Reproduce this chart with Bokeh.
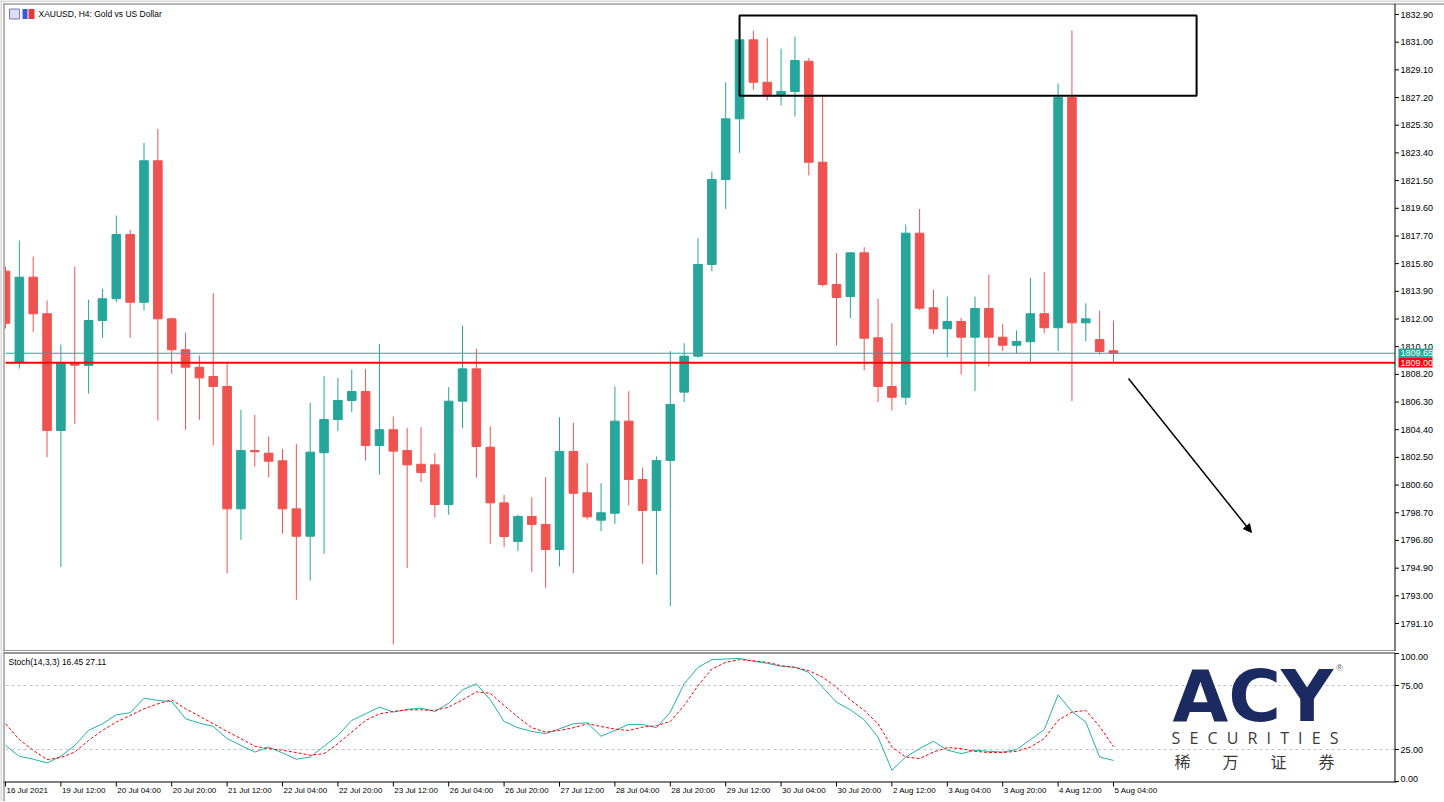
from bokeh.plotting import figure
from bokeh.models import Range1d, ColumnDataSource, Arrow, NormalHead
from bokeh.layouts import column
from bokeh.embed import file_html
from bokeh.resources import INLINE
from bokeh.core.properties import value

# ---------------- data (XAUUSD H4) ----------------
OPEN = [1815.28, 1809.03, 1814.87, 1812.36, 1804.35, 1808.97, 1808.81, 1811.90, 1813.39, 1817.80,
        1813.15, 1822.86, 1812.01, 1809.89, 1808.69, 1808.05, 1807.37, 1798.97, 1802.97, 1802.79,
        1802.27, 1798.97, 1797.09, 1802.82, 1805.10, 1806.41, 1807.02, 1803.32, 1804.40, 1802.97,
        1802.03, 1801.99, 1799.27, 1806.36, 1808.58, 1803.20, 1799.38, 1796.73, 1798.45, 1797.90,
        1796.18, 1802.91, 1800.07, 1798.19, 1798.67, 1804.99, 1800.98, 1798.86, 1802.29, 1806.98,
        1809.45, 1815.74, 1821.57, 1825.74, 1831.16, 1828.25, 1827.41, 1827.62, 1829.69, 1822.76,
        1814.37, 1813.54, 1816.54, 1810.71, 1807.37, 1806.63, 1817.89, 1812.77, 1811.33, 1811.83,
        1810.75, 1812.72, 1810.75, 1810.20, 1810.44, 1812.36, 1811.40, 1827.20, 1811.74, 1810.59,
        1809.82]
HIGH = [1815.60, 1817.39, 1816.29, 1813.27, 1810.25, 1815.60, 1813.32, 1814.07, 1819.10, 1818.12,
        1824.09, 1825.05, 1812.10, 1811.07, 1809.50, 1813.77, 1808.97, 1805.77, 1805.42, 1803.94,
        1803.09, 1803.43, 1806.25, 1808.07, 1807.96, 1808.51, 1808.58, 1810.30, 1805.31, 1804.53,
        1804.57, 1802.79, 1807.32, 1811.55, 1809.96, 1804.64, 1799.93, 1798.58, 1799.77, 1801.14,
        1805.26, 1804.88, 1802.10, 1800.73, 1807.37, 1807.04, 1801.79, 1802.56, 1809.79, 1810.34,
        1817.55, 1822.12, 1828.25, 1831.25, 1831.80, 1831.30, 1830.55, 1831.39, 1829.90, 1827.27,
        1816.52, 1816.60, 1816.93, 1813.39, 1811.71, 1818.49, 1819.56, 1814.00, 1813.54, 1812.08,
        1813.54, 1815.05, 1811.67, 1811.21, 1814.83, 1815.21, 1828.16, 1831.80, 1813.08, 1812.58,
        1811.90]
LOW = [1811.35, 1808.60, 1811.09, 1802.52, 1794.96, 1804.81, 1806.87, 1810.71, 1813.15, 1810.71,
       1812.58, 1805.03, 1808.24, 1804.40, 1805.08, 1803.32, 1794.55, 1796.84, 1801.88, 1801.14,
       1797.26, 1792.73, 1794.05, 1795.88, 1804.30, 1805.60, 1802.29, 1801.31, 1789.66, 1794.92,
       1800.80, 1798.36, 1798.56, 1804.51, 1801.10, 1796.57, 1796.34, 1796.06, 1794.62, 1793.55,
       1795.03, 1794.55, 1798.24, 1797.44, 1797.94, 1799.20, 1795.20, 1794.44, 1792.29, 1806.29,
       1809.36, 1815.28, 1819.56, 1823.41, 1827.73, 1827.00, 1826.65, 1825.90, 1821.85, 1814.23,
       1810.18, 1812.06, 1808.47, 1806.29, 1805.72, 1806.11, 1812.63, 1810.98, 1809.38, 1808.19,
       1807.05, 1808.74, 1809.79, 1809.65, 1808.97, 1811.03, 1809.79, 1806.36, 1810.48, 1809.56,
       1809.03]
CLOSE = [1811.71, 1814.87, 1812.36, 1804.35, 1808.97, 1808.83, 1811.90, 1813.39, 1817.80, 1813.15,
         1822.86, 1812.01, 1809.89, 1808.69, 1807.96, 1807.37, 1798.97, 1802.97, 1802.89, 1802.24,
         1798.97, 1797.09, 1802.86, 1805.10, 1806.41, 1807.02, 1803.32, 1804.40, 1802.93, 1801.99,
         1801.46, 1799.27, 1806.36, 1808.58, 1803.25, 1799.38, 1797.07, 1798.45, 1797.90, 1796.18,
         1802.91, 1800.04, 1798.42, 1798.70, 1804.99, 1800.98, 1798.86, 1802.29, 1806.13, 1809.45,
         1815.74, 1821.57, 1825.74, 1831.16, 1828.25, 1827.41, 1827.62, 1829.74, 1822.76, 1814.37,
         1813.48, 1816.54, 1810.68, 1807.37, 1806.63, 1817.89, 1812.74, 1811.33, 1811.83, 1810.75,
         1812.72, 1810.75, 1810.20, 1810.46, 1812.36, 1811.40, 1827.20, 1811.74, 1812.01, 1809.77,
         1809.65]
STOCH_K = [28.2, 19.7, 17.4, 14.5, 19.7, 28.2, 39.9, 45.1, 52.1, 53.7,
           65.1, 63.3, 62.5, 49.0, 45.6, 43.0, 33.5, 28.2, 23.0, 26.9,
           22.3, 17.4, 19.1, 27.5, 36.0, 47.7, 52.9, 58.1, 54.2, 56.3,
           57.3, 54.7, 61.2, 71.6, 76.3, 63.8, 46.9, 42.0, 39.1, 37.4,
           41.2, 45.1, 45.9, 35.3, 39.9, 44.6, 44.6, 42.0, 54.2, 76.3,
           89.2, 95.2, 95.7, 96.2, 93.9, 92.3, 90.0, 89.2, 85.3, 73.6,
           61.9, 56.0, 48.2, 34.7, 8.8, 19.1, 25.7, 31.4, 24.5, 21.8,
           24.4, 23.6, 23.0, 24.9, 32.7, 40.5, 67.7, 54.7, 46.4, 19.1,
           16.45]
STOCH_D = [45.1, 32.7, 24.4, 17.1, 18.7, 23.0, 32.1, 39.9, 46.4, 51.6,
           56.8, 60.7, 63.8, 56.8, 51.1, 45.1, 39.1, 33.5, 27.5, 25.7,
           24.4, 22.6, 20.5, 21.8, 29.6, 38.6, 47.7, 52.9, 54.7, 56.0,
           56.0, 55.5, 58.1, 63.8, 70.0, 68.9, 59.4, 50.3, 42.0, 38.6,
           39.9, 42.0, 45.1, 43.0, 40.9, 39.9, 42.5, 43.6, 46.9, 59.4,
           74.9, 87.9, 93.1, 95.2, 94.4, 93.1, 90.5, 89.2, 86.6, 81.4,
           73.6, 63.8, 55.5, 45.1, 26.9, 19.1, 17.9, 23.0, 26.5, 25.7,
           23.6, 22.6, 22.6, 23.6, 26.9, 33.5, 47.7, 54.2, 55.5, 43.0,
           27.11]
TIME_LABELS = ["16 Jul 2021", "19 Jul 12:00", "20 Jul 04:00", "20 Jul 20:00", "21 Jul 12:00",
               "22 Jul 04:00", "22 Jul 20:00", "23 Jul 12:00", "26 Jul 04:00", "26 Jul 20:00",
               "27 Jul 12:00", "28 Jul 04:00", "28 Jul 20:00", "29 Jul 12:00", "30 Jul 04:00",
               "30 Jul 20:00", "2 Aug 12:00", "3 Aug 04:00", "3 Aug 20:00", "4 Aug 12:00",
               "5 Aug 04:00"]
TIME_LABEL_BARS = [0, 4, 8, 12, 16, 20, 24, 28, 32, 36, 40, 44, 48, 52, 56, 60, 64, 68, 72, 76, 80]
PRICE_TICKS = [1791.10, 1793.00, 1794.90, 1796.80, 1798.70, 1800.60, 1802.50, 1804.40, 1806.30,
               1808.20, 1810.10, 1812.00, 1813.90, 1815.80, 1817.70, 1819.60, 1821.50, 1823.40,
               1825.30, 1827.20, 1829.10, 1831.00, 1832.90]
STOCH_TICKS = [0, 25, 75, 100]
STOCH_LEVELS = [25, 75]
ASK_PRICE = 1809.65
LEVEL_PRICE = 1809.00
# resistance box (bar index / price) and projected arrow
BOX_LEFT_BAR, BOX_RIGHT_BAR = 53.0, 86.0
BOX_TOP_PRICE, BOX_BOTTOM_PRICE = 1832.83, 1827.32
ARROW_FROM_BAR, ARROW_FROM_PRICE = 81.08, 1807.92
ARROW_TO_BAR, ARROW_TO_PRICE = 89.96, 1797.35

# ---------------- styles / layout ----------------
UP = "#26a69a"
DOWN = "#ef5350"
FONT = "Liberation Sans"
W, H1, H2 = 1444, 651, 150
BAR_PX = 13.85          # px per H4 bar
PRICE_PER_PX = 0.068636  # price per px in the main pane
STOCH_PX = 1.28          # px per stochastic unit


def bx(px):
    """page x pixel -> bar coordinate"""
    return (px - 5.0) / BAR_PX


def py1(s):
    """page y pixel -> price (main pane)"""
    return 1832.90 - (s - 14.0) * PRICE_PER_PX


def py2(s):
    """page y pixel -> stochastic value (lower pane)"""
    return (781.0 - s) / STOCH_PX


BARS = list(range(len(OPEN)))
src = ColumnDataSource(dict(
    x=BARS, o=OPEN, h=HIGH, l=LOW, c=CLOSE,
    top=[max(o, c) for o, c in zip(OPEN, CLOSE)],
    bottom=[min(o, c) for o, c in zip(OPEN, CLOSE)],
    color=[UP if c >= o else DOWN for o, c in zip(OPEN, CLOSE)],
))

X_LEFT, X_AXIS = bx(5), bx(1394.5)


def txt(p, **kw):
    kw.setdefault("text_font", value(FONT))
    kw.setdefault("text_color", "black")
    return p.text(**kw)


# ---------------- main price pane ----------------
p1 = figure(frame_width=W, frame_height=H1, title=None,
            x_range=Range1d(bx(0), bx(W)), y_range=Range1d(py1(H1), py1(0)),
            output_backend="svg", toolbar_location=None,
            x_axis_location=None, y_axis_location=None, min_border=0,
            min_border_left=0, min_border_right=0, min_border_top=0, min_border_bottom=0)
p1.xgrid.visible = False
p1.ygrid.visible = False
p1.outline_line_color = None
p1.background_fill_color = "white"
p1.border_fill_color = "white"

# candles
p1.segment(x0="x", y0="l", x1="x", y1="h", line_color="color", line_width=1, source=src)
p1.vbar(x="x", width=0.62, top="top", bottom="bottom", fill_color="color",
        line_color="color", line_width=1, source=src)

# left window edge mask
p1.quad(left=[bx(0)], right=[bx(4.5)], bottom=[py1(H1)], top=[py1(0)],
        fill_color="white", line_color=None)

# horizontal price lines
p1.segment(x0=X_LEFT, x1=X_AXIS, y0=[ASK_PRICE], y1=[ASK_PRICE], line_color=UP, line_width=1)
p1.segment(x0=X_LEFT, x1=X_AXIS, y0=[LEVEL_PRICE], y1=[LEVEL_PRICE], line_color="#ff0000", line_width=2)

# resistance box + arrow
p1.quad(left=[BOX_LEFT_BAR], right=[BOX_RIGHT_BAR], top=[BOX_TOP_PRICE], bottom=[BOX_BOTTOM_PRICE],
        fill_color=None, line_color="black", line_width=2)
p1.add_layout(Arrow(end=NormalHead(size=8, fill_color="black", line_color="black", line_width=1),
                    x_start=ARROW_FROM_BAR, y_start=ARROW_FROM_PRICE,
                    x_end=ARROW_TO_BAR, y_end=ARROW_TO_PRICE,
                    line_color="black", line_width=1.5))

# price scale (right)
psrc = ColumnDataSource(dict(y=PRICE_TICKS, t=[f"{v:.2f}" for v in PRICE_TICKS]))
p1.segment(x0=X_AXIS, x1=bx(1398.5), y0="y", y1="y", line_color="black", line_width=1, source=psrc)
txt(p1, x=bx(1400), y="y", text="t", source=psrc, text_font_size=value("9px"),
    text_align="left", text_baseline="middle")

# current price tags
p1.rect(x=bx(1415), y=[ASK_PRICE, LEVEL_PRICE], width=34 / BAR_PX, height=9.6 * PRICE_PER_PX,
        fill_color=[UP, "#ff0000"], line_color=None)
txt(p1, x=bx(1400), y=[ASK_PRICE, LEVEL_PRICE], text=[f"{ASK_PRICE:.2f}", f"{LEVEL_PRICE:.2f}"],
    text_color="white", text_font_size=value("9px"), text_align="left", text_baseline="middle")

# window / pane borders
p1.segment(x0=bx(0), x1=bx(W), y0=[py1(0.5)], y1=[py1(0.5)], line_color="#b4b4b4", line_width=1)
p1.segment(x0=bx(3), x1=bx(W), y0=[py1(3.5)], y1=[py1(3.5)], line_color="#6e6e6e", line_width=1)
p1.segment(x0=[bx(0.5)], x1=[bx(0.5)], y0=py1(H1), y1=py1(0), line_color="#b4b4b4", line_width=1)
p1.segment(x0=[bx(3.5)], x1=[bx(3.5)], y0=py1(H1), y1=py1(3), line_color="#6e6e6e", line_width=1)
p1.segment(x0=[X_AXIS], x1=[X_AXIS], y0=py1(H1), y1=py1(3.5), line_color="black", line_width=1)
p1.segment(x0=bx(3), x1=X_AXIS, y0=[py1(650.5)], y1=[py1(650.5)], line_color="#303030", line_width=1)

# title with symbol icons
p1.quad(left=[bx(9)], right=[bx(19)], bottom=[py1(18.5)], top=[py1(8.5)],
        fill_color="#dcdcf4", line_color="#7a7ab8", line_width=1)
p1.quad(left=[bx(22), bx(28)], right=[bx(27), bx(34)], bottom=[py1(18.5)] * 2, top=[py1(8.5)] * 2,
        fill_color=["#3b5bd6", "#e23b3b"], line_color=None)
txt(p1, x=bx(38), y=py1(13.5), text=["XAUUSD, H4:  Gold vs US Dollar"],
    text_font_size=value("8.5px"), text_align="left", text_baseline="middle")

# ---------------- stochastic pane ----------------
p2 = figure(frame_width=W, frame_height=H2, title=None,
            x_range=Range1d(bx(0), bx(W)), y_range=Range1d(py2(H1 + H2), py2(H1)),
            output_backend="svg", toolbar_location=None,
            x_axis_location=None, y_axis_location=None, min_border=0,
            min_border_left=0, min_border_right=0, min_border_top=0, min_border_bottom=0)
p2.xgrid.visible = False
p2.ygrid.visible = False
p2.outline_line_color = None
p2.background_fill_color = "white"
p2.border_fill_color = "white"

p2.segment(x0=X_LEFT, x1=X_AXIS, y0=STOCH_LEVELS, y1=STOCH_LEVELS, line_color="#c4c4c4",
           line_width=1, line_dash="3 3")
p2.line(BARS, STOCH_K, line_color="#20b2aa", line_width=1)
p2.line(BARS, STOCH_D, line_color="#ff0000", line_width=1, line_dash="3 2")

# mask left edge
p2.quad(left=[bx(0)], right=[bx(4.5)], bottom=[py2(H1 + H2)], top=[py2(H1)],
        fill_color="white", line_color=None)

# pane borders
p2.segment(x0=bx(3), x1=X_AXIS, y0=[py2(652.5)], y1=[py2(652.5)], line_color="#303030", line_width=1)
p2.segment(x0=bx(3), x1=bx(1396), y0=[py2(781.5)], y1=[py2(781.5)], line_color="black", line_width=1)
p2.segment(x0=[X_AXIS], x1=[X_AXIS], y0=py2(781.5), y1=py2(652.5), line_color="black", line_width=1)
p2.segment(x0=[bx(0.5)], x1=[bx(0.5)], y0=py2(H1 + H2), y1=py2(H1), line_color="#b4b4b4", line_width=1)
p2.segment(x0=[bx(3.5)], x1=[bx(3.5)], y0=py2(H1 + H2), y1=py2(H1), line_color="#6e6e6e", line_width=1)

# stochastic scale (right)
ssrc = ColumnDataSource(dict(y=STOCH_TICKS, t=[f"{v:.2f}" for v in STOCH_TICKS],
                             b=["bottom", "middle", "middle", "top"]))
p2.segment(x0=X_AXIS, x1=bx(1398.5), y0="y", y1="y", line_color="black", line_width=1, source=ssrc)
txt(p2, x=bx(1400), y="y", text="t", source=ssrc, text_font_size=value("9px"),
    text_align="left", text_baseline="b")

# time scale (bottom)
tsrc = ColumnDataSource(dict(x=TIME_LABEL_BARS, t=TIME_LABELS))
p2.segment(x0="x", x1="x", y0=py2(781.5), y1=py2(786), line_color="black", line_width=1, source=tsrc)
txt(p2, x="x", y=py2(789.5), text="t", source=tsrc, x_offset=1, text_font_size=value("8px"),
    text_align="left", text_baseline="middle")

# indicator title
txt(p2, x=bx(8), y=py2(661), text=[f"Stoch(14,3,3) {STOCH_K[-1]:.2f} {STOCH_D[-1]:.2f}"],
    text_font_size=value("8.5px"), text_align="left", text_baseline="middle")

# ACY Securities logo
txt(p2, x=bx(1172), y=py2(695), text=["ACY"], text_color="#1b2a61",
    text_font=value("DejaVu Sans"), text_font_style="bold", text_font_size=value("72px"),
    text_align="left", text_baseline="middle")
txt(p2, x=bx(1339), y=py2(667), text=["®"], text_color="#666666",
    text_font_size=value("9px"), text_align="center", text_baseline="middle")
txt(p2, x=bx(1254.5), y=py2(737), text=["\u2007".join("SECURITIES")], text_color="#3a3a3a",
    text_font=value("Open Sans"), text_font_size=value("16px"),
    text_align="center", text_baseline="middle")
txt(p2, x=bx(1254), y=py2(760), text=["稀\u3000\u3000万\u3000\u3000证\u3000\u3000券"],
    text_color="#3a3a3a", text_font=value("Noto Sans CJK SC"), text_font_size=value("16px"),
    text_align="center", text_baseline="middle")

layout = column(p1, p2, spacing=0)
open("out.html", "w").write(file_html(layout, INLINE, title="XAUUSD H4"))
